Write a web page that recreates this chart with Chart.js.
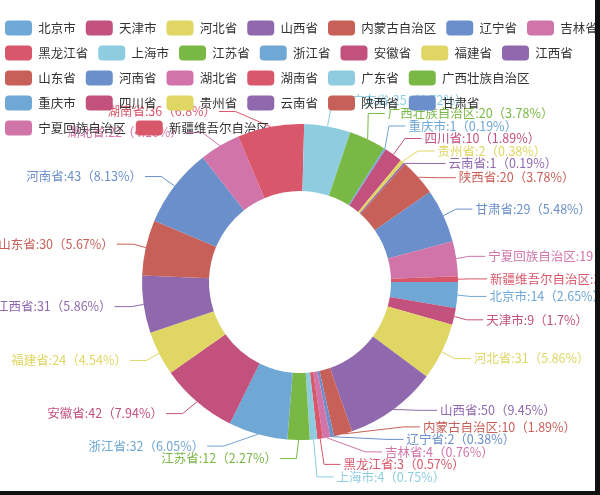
<!DOCTYPE html>
<html>
<head>
<meta charset="utf-8">
<script src="https://cdn.jsdelivr.net/npm/chart.js@4.4.1/dist/chart.umd.min.js"></script>
<style>
html,body{margin:0;padding:0;background:#fff;overflow:hidden}
#wrap{position:relative;width:600px;height:495px;background:#fff}
#c{position:absolute;left:0;top:0}
.frameR{position:absolute;left:595px;top:0;width:5px;height:495px;background:#111}
.frameB{position:absolute;left:0;top:491px;width:600px;height:4px;background:#111}
</style>
</head>
<body>
<div id="wrap"><canvas id="c" width="600" height="495"></canvas><div class="frameR"></div><div class="frameB"></div></div>
<script>
// ---- data ----
const categories = ["北京市","天津市","河北省","山西省","内蒙古自治区","辽宁省","吉林省","黑龙江省","上海市","江苏省","浙江省","安徽省","福建省","江西省","山东省","河南省","湖北省","湖南省","广东省","广西壮族自治区","重庆市","四川省","贵州省","云南省","陕西省","甘肃省","宁夏回族自治区","新疆维吾尔自治区"];
const values = [14,9,31,50,10,2,4,3,4,12,32,42,24,31,30,43,22,36,25,20,1,10,2,1,20,29,19,3];
const palette = ["#6fa7d5","#c2517d","#dfd663","#9068ad","#c8605a","#6b8fca","#d174aa","#d9576a","#8ecde0","#79b845"];

// ---- label percentages (largest remainder, 2 decimals) ----
function percentList(list, precision) {
  const sum = list.reduce((a, b) => a + b, 0);
  const digits = Math.pow(10, precision);
  const quota = list.map(v => v / sum * digits * 100);
  const target = digits * 100;
  const seats = quota.map(Math.floor);
  let cur = seats.reduce((a, b) => a + b, 0);
  const rem = quota.map((q, i) => q - seats[i]);
  while (cur < target) {
    let max = -Infinity, id = -1;
    for (let i = 0; i < rem.length; i++) if (rem[i] > max) { max = rem[i]; id = i; }
    seats[id]++; rem[id] = 0; cur++;
  }
  return seats.map(s => s / digits);
}
const pcts = percentList(values, 2);
const labelTexts = categories.map((c, i) => c + ':' + values[i] + '（' + pcts[i] + '%）');
const colors = categories.map((c, i) => palette[i % palette.length]);

// ---- outside label layout (echarts-like) ----
const FONT = '12.5px "Noto Sans CJK SC", "Noto Sans", sans-serif';
const LEN = 15.5, LEN2 = 16.5, LABEL_H = 12.5, VIEW_H = 491;

function adjustSingleSide(list, cx, cy, r, dir, viewHeight) {
  list.sort((a, b) => a.y - b.y);
  function shiftDown(start, end, delta) {
    for (let j = start; j < end; j++) {
      list[j].y += delta;
      if (j > start && j + 1 < end && list[j + 1].y > list[j].y + list[j].height) {
        shiftUp(j, delta / 2);
        return;
      }
    }
    shiftUp(end - 1, delta / 2);
  }
  function shiftUp(end, delta) {
    for (let j = end; j >= 0; j--) {
      list[j].y -= delta;
      if (j > 0 && list[j].y > list[j - 1].y + list[j - 1].height) break;
    }
  }
  function changeX(arr, isDown) {
    let lastDeltaX = isDown ? Number.MAX_VALUE : 0;
    for (let i = 0; i < arr.length; i++) {
      const deltaY = Math.abs(arr[i].y - cy);
      const L = arr[i].len, L2 = arr[i].len2;
      let deltaX = (deltaY < r + L)
        ? Math.sqrt((r + L + L2) * (r + L + L2) - deltaY * deltaY)
        : Math.abs(arr[i].x - cx);
      if (isDown && deltaX >= lastDeltaX) deltaX = lastDeltaX - 10;
      if (!isDown && deltaX <= lastDeltaX) deltaX = lastDeltaX + 10;
      arr[i].x = cx + deltaX * dir;
      lastDeltaX = deltaX;
    }
  }
  let lastY = 0;
  const len = list.length;
  for (let i = 0; i < len; i++) {
    const delta = list[i].y - lastY;
    if (delta < 0) shiftDown(i, len, -delta);
    lastY = list[i].y + list[i].height;
  }
  if (viewHeight - lastY < 0) shiftUp(len - 1, lastY - viewHeight);
  const up = [], down = [];
  for (let i = 0; i < len; i++) (list[i].y >= cy ? down : up).push(list[i]);
  changeX(up, false);
  changeX(down, true);
}

function avoidOverlap(list, cx, cy, r, viewHeight) {
  const left = [], right = [];
  list.forEach(l => (l.x < cx ? left : right).push(l));
  adjustSingleSide(right, cx, cy, r, 1, viewHeight);
  adjustSingleSide(left, cx, cy, r, -1, viewHeight);
  list.forEach(l => {
    const lp = l.linePoints;
    const dist = lp[1][0] - lp[2][0];
    lp[2][0] = l.x < cx ? l.x + 3 : l.x - 3;
    lp[1][1] = lp[2][1] = l.y;
    lp[1][0] = lp[2][0] + dist;
  });
}

const outLabels = {
  id: 'outLabels',
  beforeDraw(chart) {
    const ctx = chart.ctx;
    ctx.save();
    ctx.fillStyle = '#fff';
    ctx.fillRect(0, 0, chart.width, chart.height);
    const arcs = chart.getDatasetMeta(0).data;
    const list = [];
    let cx = 0, cy = 0, R = 0;
    arcs.forEach((arc, i) => {
      const p = arc.getProps(['x', 'y', 'startAngle', 'endAngle', 'outerRadius'], true);
      cx = p.x; cy = p.y; R = p.outerRadius;
      const mid = (p.startAngle + p.endAngle) / 2;
      const dx = Math.cos(mid), dy = Math.sin(mid);
      const x1 = p.x + R * dx, y1 = p.y + R * dy;
      const x2 = x1 + dx * LEN, y2 = y1 + dy * LEN;
      const x3 = x2 + (dx < 0 ? -1 : 1) * LEN2, y3 = y2;
      list.push({ i, x: x3 + (dx < 0 ? -5 : 5), y: y3, height: LABEL_H, len: LEN, len2: LEN2,
        linePoints: [[x1, y1], [x2, y2], [x3, y3]], align: dx > 0 ? 'left' : 'right' });
    });
    avoidOverlap(list, cx, cy, R, VIEW_H);
    ctx.font = FONT;
    ctx.textBaseline = 'middle';
    ctx.lineWidth = 1;
    list.forEach(l => {
      const col = colors[l.i];
      const lp = l.linePoints;
      ctx.strokeStyle = col;
      ctx.beginPath();
      ctx.moveTo(lp[0][0], lp[0][1]);
      ctx.lineTo(lp[1][0], lp[1][1]);
      ctx.lineTo(lp[2][0], lp[2][1]);
      ctx.stroke();
      ctx.fillStyle = col;
      ctx.textAlign = l.align;
      ctx.fillText(labelTexts[l.i], l.x, l.y);
    });
    ctx.restore();
  }
};

new Chart(document.getElementById('c'), {
  type: 'doughnut',
  data: {
    labels: categories,
    datasets: [{ data: values, backgroundColor: colors, borderWidth: 0, hoverOffset: 0, clip: false }]
  },
  options: {
    responsive: false,
    animation: false,
    devicePixelRatio: 1,
    rotation: 90,
    radius: 158,
    cutout: '57.6%',
    layout: { padding: { left: -5, right: -10, top: 10.5, bottom: 76.5 } },
    plugins: {
      legend: {
        position: 'top',
        align: 'start',
        labels: {
          boxWidth: 27, boxHeight: 15, padding: 10,
          useBorderRadius: true, borderRadius: 4,
          color: '#333',
          font: { size: 12.5, family: '"Noto Sans CJK SC", "Noto Sans", sans-serif' }
        }
      },
      tooltip: { enabled: false }
    }
  },
  plugins: [outLabels]
});
</script>
</body>
</html>
